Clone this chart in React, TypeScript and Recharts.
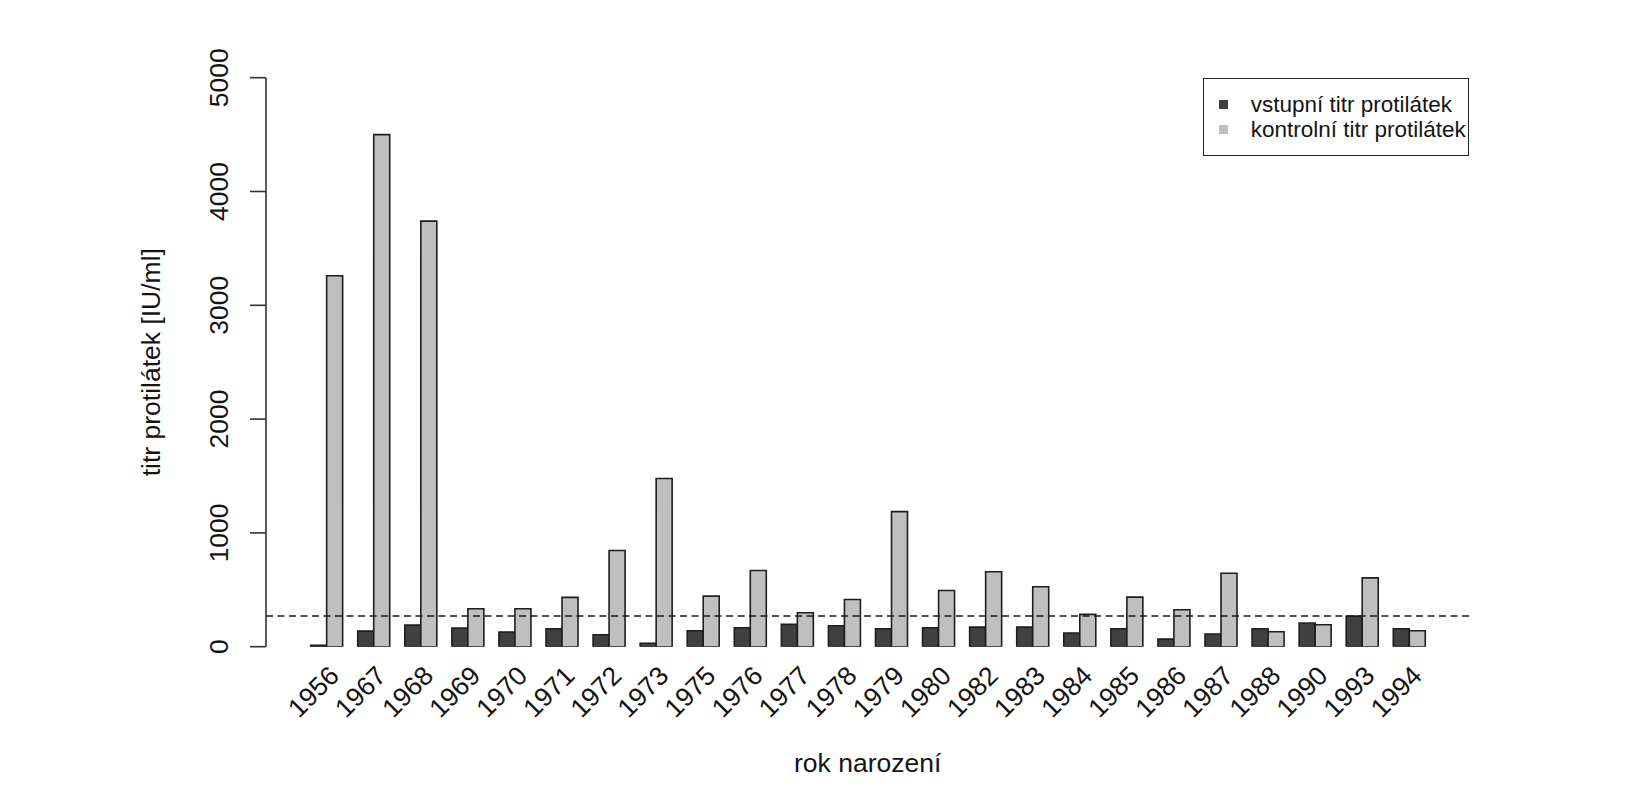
import { BarChart, Bar, XAxis, YAxis, ReferenceLine, Legend, Label } from 'recharts'

// rok narození (birth year) categories
const YEARS = [
  1956, 1967, 1968, 1969, 1970, 1971, 1972, 1973, 1975, 1976, 1977, 1978,
  1979, 1980, 1982, 1983, 1984, 1985, 1986, 1987, 1988, 1990, 1993, 1994,
]

// vstupní titr protilátek [IU/ml]
const ENTRY_TITER = [
  12, 137, 190, 164, 129, 158, 105, 30, 140, 167, 196, 184,
  158, 167, 172, 172, 120, 158, 67, 111, 158, 208, 269, 158,
]

// kontrolní titr protilátek [IU/ml]
const CONTROL_TITER = [
  3260, 4500, 3740, 333, 333, 433, 845, 1478, 444, 670, 298, 415,
  1187, 494, 658, 527, 284, 436, 325, 646, 132, 193, 605, 140,
]

const SERIES_NAMES = ['vstupní titr protilátek', 'kontrolní titr protilátek']
const Y_TICKS = [0, 1000, 2000, 3000, 4000, 5000]
const THRESHOLD = 270

const FONT = '"Liberation Sans", Arial, Helvetica, sans-serif'
const DARK = '#404040'
const LIGHT = '#bfbfbf'
const EDGE = '#1e1e1e'
const INK = '#141414'

const data = YEARS.map((year, i) => ({
  year: String(year),
  vstupni: ENTRY_TITER[i],
  kontrolni: CONTROL_TITER[i],
}))

function YTick({ x, y, payload }: any) {
  return (
    <text
      transform={`translate(${x - 20},${y}) rotate(-90)`}
      textAnchor="middle"
      fontSize={26.5}
      fontFamily={FONT}
      fill={INK}
    >
      {payload.value}
    </text>
  )
}

// labels sit under the second (light) bar of each group, like text(srt=45, adj=1)
function XTick({ x, y, payload }: any) {
  return (
    <text
      transform={`translate(${x + 7.8},${y + 24}) rotate(-45)`}
      textAnchor="end"
      dy="0.35em"
      fontSize={26.5}
      fontFamily={FONT}
      fill={INK}
    >
      {payload.value}
    </text>
  )
}

function LegendBox({ payload }: any) {
  const items = SERIES_NAMES.map(name => (payload ?? []).find((p: any) => p.value === name)).filter(Boolean)
  return (
    <div
      style={{
        border: '1.4px solid #222',
        background: '#fff',
        padding: '13px 0',
        boxSizing: 'border-box',
        width: 266,
        fontFamily: FONT,
        fontSize: 22.5,
        color: INK,
        textAlign: 'left',
      }}
    >
      {items.map((item: any) => (
        <div key={item.value} style={{ display: 'flex', alignItems: 'center', height: 25 }}>
          <span
            style={{
              display: 'inline-block',
              width: 9,
              height: 9,
              marginLeft: 15,
              marginRight: 23,
              background: item.color,
            }}
          />
          <span>{item.value}</span>
        </div>
      ))}
    </div>
  )
}

export default function App() {
  return (
    <div style={{ width: 1636, height: 780, background: '#fff' }}>
      <BarChart
        width={1636}
        height={780}
        data={data}
        margin={{ top: 69.7, right: 174.7, left: 0, bottom: 0 }}
        barCategoryGap={7.85}
        barGap={0}
      >
        <XAxis
          dataKey="year"
          height={141.3}
          axisLine={false}
          tickLine={false}
          tickSize={0}
          tickMargin={0}
          interval={0}
          padding={{ left: 36.8, right: 36.8 }}
          tick={<XTick />}
        >
          <Label
            content={({ viewBox }: any) => (
              <text
                x={viewBox.x + viewBox.width / 2}
                y={viewBox.y + 125}
                textAnchor="middle"
                fontSize={26.5}
                fontFamily={FONT}
                fill={INK}
              >
                rok narození
              </text>
            )}
          />
        </XAxis>
        <YAxis
          width={258}
          domain={[0, 5000]}
          ticks={Y_TICKS}
          allowDataOverflow
          stroke="#333"
          strokeWidth={1.6}
          tickSize={16}
          tickMargin={2}
          tickLine={{ stroke: '#333', strokeWidth: 1.6 }}
          tick={<YTick />}
        >
          <Label
            content={({ viewBox }: any) => (
              <text
                transform={`translate(152,${viewBox.y + viewBox.height / 2}) rotate(-90)`}
                textAnchor="middle"
                fontSize={26.5}
                fontFamily={FONT}
                fill={INK}
              >
                titr protilátek [IU/ml]
              </text>
            )}
          />
        </YAxis>
        <Legend
          layout="horizontal"
          verticalAlign="middle"
          align="center"
          wrapperStyle={{ left: 1194.7, top: 70.3, width: 266 }}
          content={<LegendBox />}
        />
        <Bar
          dataKey="vstupni"
          name={SERIES_NAMES[0]}
          fill={DARK}
          stroke={EDGE}
          strokeWidth={1.6}
          isAnimationActive={false}
        />
        <Bar
          dataKey="kontrolni"
          name={SERIES_NAMES[1]}
          fill={LIGHT}
          stroke={EDGE}
          strokeWidth={1.6}
          isAnimationActive={false}
        />
        <ReferenceLine
          y={THRESHOLD}
          stroke="#1a1a1a"
          strokeWidth={1.4}
          strokeDasharray="7 4.5"
        />
      </BarChart>
    </div>
  )
}
